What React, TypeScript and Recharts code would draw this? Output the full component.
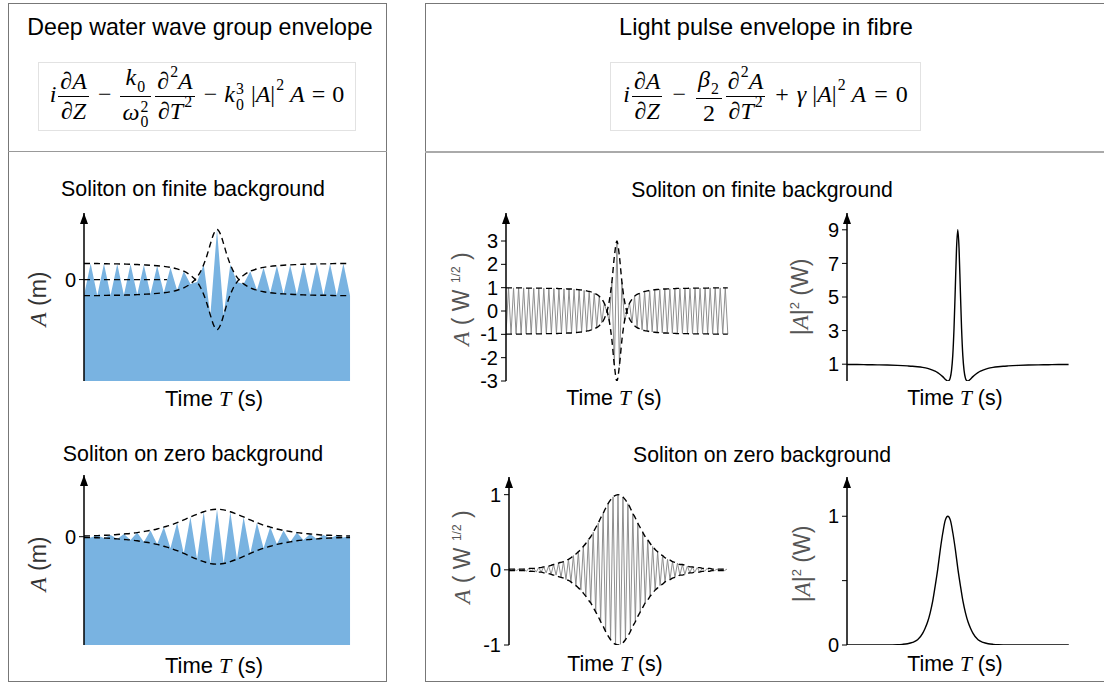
import React from 'react';
import { ComposedChart, Area, Line, XAxis, YAxis, ReferenceLine } from 'recharts';

const SANS = '"Liberation Sans", Arial, Helvetica, sans-serif';
const SERIF = '"Liberation Serif", "Times New Roman", serif';
const WAVE_BLUE = '#79b3e1';

// ---- deep water: carrier extrema at integer T ----
const waterT = [-20, -19, -18, -17, -16, -15, -14, -13, -12, -11, -10, -9, -8, -7, -6, -5, -4, -3, -2, -1, 0, 1, 2, 3, 4, 5, 6, 7, 8, 9, 10, 11, 12, 13, 14, 15, 16, 17, 18, 19, 20];

const waterFiniteWave = [-0.96, 0.96, -0.96, 0.95, -0.94, 0.94, -0.93, 0.92, -0.9, 0.88, -0.86, 0.83, -0.79, 0.73, -0.64, 0.5, -0.26, -0.15, 0.9, -2.13, 3, -2.13, 0.9, -0.15, -0.26, 0.5, -0.64, 0.73, -0.79, 0.83, -0.86, 0.88, -0.9, 0.92, -0.93, 0.94, -0.94, 0.95, -0.96, 0.96, -0.96];

const waterEnvT = [-20, -19, -18, -17, -16, -15, -14, -13, -12, -11, -10, -9, -8, -7, -6, -5, -4, -3.5, -3, -2.5, -2, -1.5, -1, -0.5, 0, 0.5, 1, 1.5, 2, 2.5, 3, 3.5, 4, 5, 6, 7, 8, 9, 10, 11, 12, 13, 14, 15, 16, 17, 18, 19, 20];
const waterFiniteEnv = [0.96, 0.96, 0.96, 0.95, 0.94, 0.94, 0.93, 0.92, 0.9, 0.88, 0.86, 0.83, 0.79, 0.73, 0.64, 0.5, 0.26, 0.09, -0.15, -0.46, -0.9, -1.46, -2.13, -2.74, -3, -2.74, -2.13, -1.46, -0.9, -0.46, -0.15, 0.09, 0.26, 0.5, 0.64, 0.73, 0.79, 0.83, 0.86, 0.88, 0.9, 0.92, 0.93, 0.94, 0.94, 0.95, 0.96, 0.96, 0.96];

const waterZeroWave = [0.03, -0.03, 0.04, -0.05, 0.06, -0.08, 0.1, -0.12, 0.15, -0.19, 0.23, -0.28, 0.35, -0.42, 0.51, -0.61, 0.72, -0.82, 0.91, -0.98, 1, -0.98, 0.91, -0.82, 0.72, -0.61, 0.51, -0.42, 0.35, -0.28, 0.23, -0.19, 0.15, -0.12, 0.1, -0.08, 0.06, -0.05, 0.04, -0.03, 0.03];
const waterZeroEnv = [0.03, 0.03, 0.04, 0.05, 0.06, 0.08, 0.1, 0.12, 0.15, 0.19, 0.23, 0.28, 0.35, 0.42, 0.51, 0.61, 0.72, 0.82, 0.91, 0.98, 1, 0.98, 0.91, 0.82, 0.72, 0.61, 0.51, 0.42, 0.35, 0.28, 0.23, 0.19, 0.15, 0.12, 0.1, 0.08, 0.06, 0.05, 0.04, 0.03, 0.03];

// ---- optical fibre: carrier extrema at integer T ----
const fibreT = [-44, -43, -42, -41, -40, -39, -38, -37, -36, -35, -34, -33, -32, -31, -30, -29, -28, -27, -26, -25, -24, -23, -22, -21, -20, -19, -18, -17, -16, -15, -14, -13, -12, -11, -10, -9, -8, -7, -6, -5, -4, -3, -2, -1, 0, 1, 2, 3, 4, 5, 6, 7, 8, 9, 10, 11, 12, 13, 14, 15, 16, 17, 18, 19, 20, 21, 22, 23, 24, 25, 26, 27, 28, 29, 30, 31, 32, 33, 34, 35, 36, 37, 38, 39, 40, 41, 42, 43, 44];

const fibreFiniteWave = [
  -0.99, 0.99, -0.99, 0.99, -0.99, 0.99, -0.99, 0.99, -0.98, 0.98, -0.98, 0.98, -0.98, 0.98, -0.98, 0.98, -0.97, 0.97, -0.97, 0.97, -0.97, 0.96, -0.96, 0.95, -0.95, 0.94, -0.94, 0.93, -0.92, 0.91, -0.9, 0.88, -0.86, 0.84, -0.81, 0.76, -0.71, 0.63, -0.51, 0.33, -0.04, -0.44, 1.23, -2.34,
  3,
  -2.34, 1.23, -0.44, -0.04, 0.33, -0.51, 0.63, -0.71, 0.76, -0.81, 0.84, -0.86, 0.88, -0.9, 0.91, -0.92, 0.93, -0.94, 0.94, -0.95, 0.95, -0.96, 0.96, -0.97, 0.97, -0.97, 0.97, -0.97, 0.98, -0.98, 0.98, -0.98, 0.98, -0.98, 0.98, -0.98, 0.99, -0.99, 0.99, -0.99, 0.99, -0.99, 0.99, -0.99,
];
const fibreFiniteEnv = [
  0.99, 0.99, 0.99, 0.99, 0.99, 0.99, 0.99, 0.99, 0.98, 0.98, 0.98, 0.98, 0.98, 0.98, 0.98, 0.98, 0.97, 0.97, 0.97, 0.97, 0.97, 0.96, 0.96, 0.95, 0.95, 0.94, 0.94, 0.93, 0.92, 0.91, 0.9, 0.88, 0.86, 0.84, 0.81, 0.76, 0.71, 0.63, 0.51, 0.33, 0.04, -0.44, -1.23, -2.34,
  -3,
  -2.34, -1.23, -0.44, 0.04, 0.33, 0.51, 0.63, 0.71, 0.76, 0.81, 0.84, 0.86, 0.88, 0.9, 0.91, 0.92, 0.93, 0.94, 0.94, 0.95, 0.95, 0.96, 0.96, 0.97, 0.97, 0.97, 0.97, 0.97, 0.98, 0.98, 0.98, 0.98, 0.98, 0.98, 0.98, 0.98, 0.99, 0.99, 0.99, 0.99, 0.99, 0.99, 0.99, 0.99,
];

const fibreZeroWave = [
  0.01, -0.01, 0.01, -0.01, 0.01, -0.01, 0.01, -0.02, 0.02, -0.02, 0.02, -0.03, 0.03, -0.03, 0.04, -0.04, 0.05, -0.06, 0.07, -0.07, 0.09, -0.1, 0.11, -0.13, 0.14, -0.16, 0.19, -0.21, 0.24, -0.27, 0.31, -0.35, 0.4, -0.44, 0.5, -0.56, 0.62, -0.69, 0.75, -0.82, 0.88, -0.93, 0.97, -0.99,
  1,
  -0.99, 0.97, -0.93, 0.88, -0.82, 0.75, -0.69, 0.62, -0.56, 0.5, -0.44, 0.4, -0.35, 0.31, -0.27, 0.24, -0.21, 0.19, -0.16, 0.14, -0.13, 0.11, -0.1, 0.09, -0.07, 0.07, -0.06, 0.05, -0.04, 0.04, -0.03, 0.03, -0.03, 0.02, -0.02, 0.02, -0.02, 0.01, -0.01, 0.01, -0.01, 0.01, -0.01, 0.01,
];
const fibreZeroEnv = [
  0.01, 0.01, 0.01, 0.01, 0.01, 0.01, 0.01, 0.02, 0.02, 0.02, 0.02, 0.03, 0.03, 0.03, 0.04, 0.04, 0.05, 0.06, 0.07, 0.07, 0.09, 0.1, 0.11, 0.13, 0.14, 0.16, 0.19, 0.21, 0.24, 0.27, 0.31, 0.35, 0.4, 0.44, 0.5, 0.56, 0.62, 0.69, 0.75, 0.82, 0.88, 0.93, 0.97, 0.99,
  1,
  0.99, 0.97, 0.93, 0.88, 0.82, 0.75, 0.69, 0.62, 0.56, 0.5, 0.44, 0.4, 0.35, 0.31, 0.27, 0.24, 0.21, 0.19, 0.16, 0.14, 0.13, 0.11, 0.1, 0.09, 0.07, 0.07, 0.06, 0.05, 0.04, 0.04, 0.03, 0.03, 0.03, 0.02, 0.02, 0.02, 0.02, 0.01, 0.01, 0.01, 0.01, 0.01, 0.01, 0.01,
];

// ---- optical power |A|^2 ----
const finitePowerT = [-44, -40, -36, -32, -28, -24, -20, -18, -16, -14, -12, -10, -9, -8, -7, -6, -5, -4.5, -4, -3.5, -3, -2.5, -2, -1.5, -1, -0.5, 0, 0.5, 1, 1.5, 2, 2.5, 3, 3.5, 4, 4.5, 5, 6, 7, 8, 9, 10, 12, 14, 16, 18, 20, 24, 28, 32, 36, 40, 44];
const finitePower = [0.98, 0.98, 0.97, 0.96, 0.95, 0.93, 0.9, 0.88, 0.85, 0.81, 0.75, 0.65, 0.59, 0.5, 0.39, 0.26, 0.11, 0.04, 0, 0.03, 0.19, 0.62, 1.51, 3.13, 5.48, 7.9, 9, 7.9, 5.48, 3.13, 1.51, 0.62, 0.19, 0.03, 0, 0.04, 0.11, 0.26, 0.39, 0.5, 0.59, 0.65, 0.75, 0.81, 0.85, 0.88, 0.9, 0.93, 0.95, 0.96, 0.97, 0.98, 0.98];

const zeroPowerT = [-40, -36, -32, -28, -24, -20, -18, -16, -14, -12, -10, -9, -8, -7, -6, -5, -4, -3, -2, -1, 0, 1, 2, 3, 4, 5, 6, 7, 8, 9, 10, 12, 14, 16, 18, 20, 24, 28, 32, 36, 40, 44, 48];
const zeroPower = [0, 0, 0, 0, 0, 0.002, 0.005, 0.01, 0.02, 0.04, 0.09, 0.13, 0.18, 0.25, 0.34, 0.46, 0.59, 0.74, 0.87, 0.97, 1, 0.97, 0.87, 0.74, 0.59, 0.46, 0.34, 0.25, 0.18, 0.13, 0.09, 0.04, 0.02, 0.01, 0.005, 0.002, 0, 0, 0, 0, 0, 0, 0];

const finiteAmpTicks = [-3, -2, -1, 0, 1, 2, 3];
const finitePowerTicks = [1, 3, 5, 7, 9];
const zeroAmpTicks = [-1, 0, 1];
const zeroPowerTicks = [0, 0.5, 1];

const series = (ts: number[], vs: number[]) => ts.map((t, i) => ({ t, v: vs[i] }));
const band = (ts: number[], vs: number[]) => ts.map((t, i) => ({ t, up: vs[i], lo: -vs[i] }));

const AXIS = { stroke: '#000', strokeWidth: 1.5 };

type PlotProps = {
  x0: number; x1: number; y0: number; y1: number;
  xDomain: [number, number]; yDomain: [number, number];
  ticks: number[]; tickFormatter?: (v: number) => string;
  tickSize?: number;
  children: React.ReactNode;
};

// x0/x1/y0/y1 are the page coordinates of the plot box (axis corner to arrow tips)
function Plot({ x0, x1, y0, y1, xDomain, yDomain, ticks, tickFormatter, tickSize = 20, children }: PlotProps) {
  const yW = 44;
  const pad = 6;
  const padBottom = 16;
  return (
    <div style={{ position: 'absolute', left: x0 - yW - pad, top: y0 - pad }}>
      <ComposedChart
        width={x1 - x0 + yW + pad * 2}
        height={y1 - y0 + pad + padBottom}
        margin={{ top: pad, right: pad, bottom: padBottom, left: pad }}
      >
        <XAxis
          type="number"
          dataKey="t"
          domain={xDomain}
          allowDataOverflow
          height={0}
          tick={false}
          tickLine={false}
          axisLine={{ ...AXIS, markerEnd: 'url(#axisArrow)' } as any}
        />
        <YAxis
          type="number"
          domain={yDomain}
          allowDataOverflow
          ticks={ticks}
          interval={0}
          width={yW}
          tickSize={5}
          tickMargin={3}
          tickFormatter={tickFormatter}
          tickLine={{ stroke: '#000', strokeWidth: 1 }}
          tick={{ fill: '#000', fontSize: tickSize, fontFamily: SANS }}
          axisLine={{ ...AXIS, markerStart: 'url(#axisArrow)' } as any}
        />
        {children}
      </ComposedChart>
    </div>
  );
}

const dashed = { stroke: '#000', strokeWidth: 1.4, strokeDasharray: '6 4', dot: false, isAnimationActive: false } as const;

function Text({ x, y, size, children, color = '#000', rotate = false }: { x: number; y: number; size: number; children: React.ReactNode; color?: string; rotate?: boolean }) {
  return (
    <div
      style={{
        position: 'absolute', left: x, top: y, fontFamily: SANS, fontSize: size, color, lineHeight: 1,
        whiteSpace: 'nowrap', transform: `translate(-50%, -50%)${rotate ? ' rotate(-90deg)' : ''}`,
      }}
    >
      {children}
    </div>
  );
}

const M = ({ children }: { children: React.ReactNode }) => (
  <span style={{ fontFamily: SERIF, fontStyle: 'italic' }}>{children}</span>
);

function Frac({ n, d }: { n: React.ReactNode; d: React.ReactNode }) {
  return (
    <span style={{ display: 'inline-flex', flexDirection: 'column', alignItems: 'stretch', verticalAlign: 'middle', margin: '0 2px', textAlign: 'center' }}>
      <span style={{ padding: '0 2px 2px', lineHeight: 1.05 }}>{n}</span>
      <span style={{ borderTop: '1px solid #000', padding: '2px 2px 0', lineHeight: 1.05 }}>{d}</span>
    </span>
  );
}

// stacked superscript / subscript pair, as in k_0^3
function SubSup({ sub, sup }: { sub?: React.ReactNode; sup?: React.ReactNode }) {
  return (
    <span style={{ display: 'inline-flex', flexDirection: 'column', verticalAlign: 'middle', fontSize: '0.66em', lineHeight: 0.95, fontStyle: 'normal', margin: '0 1px' }}>
      <span style={{ visibility: sup ? 'visible' : 'hidden' }}>{sup ?? '0'}</span>
      <span style={{ visibility: sub ? 'visible' : 'hidden' }}>{sub ?? '0'}</span>
    </span>
  );
}

const Sq = () => (
  <span style={{ fontSize: '0.66em', fontStyle: 'normal', lineHeight: 0, verticalAlign: '0.75em', marginLeft: 1 }}>2</span>
);
const U = ({ children }: { children: React.ReactNode }) => <span style={{ fontStyle: 'normal' }}>{children}</span>;
const Op = ({ children, gap }: { children: React.ReactNode; gap: number }) => (
  <span style={{ fontStyle: 'normal', margin: `0 ${gap}px` }}>{children}</span>
);

function Equation({ left, width, size, children }: { left: number; width: number; size: number; children: React.ReactNode }) {
  return (
    <div
      style={{
        position: 'absolute', left, top: 62, width, height: 69, boxSizing: 'border-box', border: '1px solid #e2e2e2',
        display: 'flex', alignItems: 'center', justifyContent: 'center', fontFamily: SERIF, fontStyle: 'italic', fontSize: size, whiteSpace: 'nowrap',
      }}
    >
      <span style={{ lineHeight: 1 }}>{children}</span>
    </div>
  );
}

function TimeLabel({ x, y, size = 22 }: { x: number; y: number; size?: number }) {
  return (
    <Text x={x} y={y} size={size}>
      Time <M>T</M> (s)
    </Text>
  );
}

export default function App() {
  const waterFinite = series(waterT, waterFiniteWave);
  const waterFiniteBand = band(waterEnvT, waterFiniteEnv);
  const waterZero = series(waterT, waterZeroWave);
  const waterZeroBand = band(waterT, waterZeroEnv);
  const fibreFinite = series(fibreT, fibreFiniteWave);
  const fibreFiniteBand = band(fibreT, fibreFiniteEnv);
  const fibreZero = series(fibreT, fibreZeroWave);
  const fibreZeroBand = band(fibreT, fibreZeroEnv);
  const finitePow = series(finitePowerT, finitePower);
  const zeroPow = series(zeroPowerT, zeroPower);

  return (
    <div style={{ position: 'absolute', left: 0, top: 0, width: 1104, height: 684, overflow: 'hidden', background: '#fff' }}>
      <svg width={0} height={0} style={{ position: 'absolute' }}>
        <defs>
          <marker id="axisArrow" viewBox="0 0 11 8" refX={11} refY={4} markerWidth={11} markerHeight={8} markerUnits="userSpaceOnUse" orient="auto-start-reverse">
            <path d="M0,0 L11,4 L0,8 z" fill="#000" />
          </marker>
        </defs>
      </svg>

      {/* panel frames */}
      <div style={{ position: 'absolute', left: 8, top: 3, width: 379, height: 679, boxSizing: 'border-box', border: '1px solid #777' }} />
      <div style={{ position: 'absolute', left: 8, top: 151, width: 379, height: 1, background: '#999' }} />
      <div style={{ position: 'absolute', left: 425, top: 3, width: 700, height: 679, boxSizing: 'border-box', border: '1px solid #777' }} />
      <div style={{ position: 'absolute', left: 425, top: 151, width: 700, height: 2, background: '#aaa' }} />

      <Text x={200} y={28} size={23.2}>Deep water wave group envelope</Text>
      <Text x={766} y={28} size={23.6}>Light pulse envelope in fibre</Text>

      <Equation left={38} width={318} size={24}>
        <span>i</span>
        <Frac n={<><U>∂</U>A</>} d={<><U>∂</U>Z</>} />
        <Op gap={7}>−</Op>
        <Frac n={<>k<SubSup sub="0" /></>} d={<>ω<SubSup sub="0" sup="2" /></>} />
        <Frac n={<><U>∂</U><Sq />A</>} d={<><U>∂</U>T<Sq /></>} />
        <Op gap={7}>−</Op>
        <span>k</span><SubSup sub="0" sup="3" />
        <U>&nbsp;|</U>A<U>|</U><Sq />
        <span>&nbsp;A</span>
        <Op gap={7}>=</Op>
        <U>0</U>
      </Equation>

      <Equation left={610} width={311} size={24}>
        <span>i</span>
        <Frac n={<><U>∂</U>A</>} d={<><U>∂</U>Z</>} />
        <Op gap={8}>−</Op>
        <Frac n={<>β<SubSup sub="2" /></>} d={<U>2</U>} />
        <Frac n={<><U>∂</U><Sq />A</>} d={<><U>∂</U>T<Sq /></>} />
        <Op gap={8}>+</Op>
        <span>γ</span>
        <U>&nbsp;|</U>A<U>|</U><Sq />
        <span>&nbsp;A</span>
        <Op gap={8}>=</Op>
        <U>0</U>
      </Equation>

      {/* deep water, finite background */}
      <Text x={193} y={190} size={21.4}>Soliton on finite background</Text>
      <Plot x0={84} x1={368} y0={213} y1={381} xDomain={[-20, 22.7]} yDomain={[-6.08, 3.99]} ticks={[0]}>
        <Area data={waterFinite} dataKey="v" type="linear" baseValue={-6.08} fill={WAVE_BLUE} fillOpacity={1} stroke="none" isAnimationActive={false} />
        <ReferenceLine segment={[{ x: -20, y: 0 }, { x: -7.5, y: 0 }]} stroke="#000" strokeWidth={1.2} strokeDasharray="6 4" />
        <Line data={waterFiniteBand} dataKey="up" type="monotone" {...dashed} />
        <Line data={waterFiniteBand} dataKey="lo" type="monotone" {...dashed} />
      </Plot>
      <Text x={38} y={299} size={23} color="#333" rotate><M>A</M> (m)</Text>
      <TimeLabel x={214} y={399} />

      {/* deep water, zero background */}
      <Text x={193} y={455} size={21.4}>Soliton on zero background</Text>
      <Plot x0={84} x1={368} y0={475} y1={645} xDomain={[-20, 22.7]} yDomain={[-3.95, 2.25]} ticks={[0]}>
        <Area data={waterZero} dataKey="v" type="linear" baseValue={-3.95} fill={WAVE_BLUE} fillOpacity={1} stroke="none" isAnimationActive={false} />
        <Line data={waterZeroBand} dataKey="up" type="monotone" {...dashed} />
        <Line data={waterZeroBand} dataKey="lo" type="monotone" {...dashed} />
      </Plot>
      <Text x={38} y={564} size={23} color="#333" rotate><M>A</M> (m)</Text>
      <TimeLabel x={214} y={666} />

      {/* fibre, finite background */}
      <Text x={762} y={190} size={21.2}>Soliton on finite background</Text>
      <Plot x0={506} x1={752} y0={213} y1={381} xDomain={[-44, 53.6]} yDomain={[-3, 4.2]} ticks={finiteAmpTicks}>
        <Line data={fibreFinite} dataKey="v" type="linear" stroke="#8f8f8f" strokeWidth={1} dot={false} isAnimationActive={false} />
        <Line data={fibreFiniteBand} dataKey="up" type="monotone" {...dashed} />
        <Line data={fibreFiniteBand} dataKey="lo" type="monotone" {...dashed} />
      </Plot>
      <Text x={461} y={299} size={23} color="#555" rotate>
        <M>A</M> ( W <sup style={{ fontSize: 12 }}>1/2</sup> )
      </Text>
      <TimeLabel x={614} y={399} size={21.4} />

      <Plot x0={847} x1={1092} y0={213} y1={381} xDomain={[-44, 53.3]} yDomain={[0, 10]} ticks={finitePowerTicks}>
        <Line data={finitePow} dataKey="v" type="monotone" stroke="#000" strokeWidth={1.4} dot={false} isAnimationActive={false} />
      </Plot>
      <Text x={800} y={297} size={23} color="#555" rotate>
        |<M>A</M>|<sup style={{ fontSize: 13 }}>2</sup> (W)
      </Text>
      <TimeLabel x={955} y={399} size={21.4} />

      {/* fibre, zero background */}
      <Text x={762} y={455} size={21.2}>Soliton on zero background</Text>
      <Plot x0={509} x1={753} y0={477} y1={645} xDomain={[-44, 54.5]} yDomain={[-1, 1.235]} ticks={zeroAmpTicks}>
        <Line data={fibreZero} dataKey="v" type="linear" stroke="#8f8f8f" strokeWidth={1} dot={false} isAnimationActive={false} />
        <Line data={fibreZeroBand} dataKey="up" type="monotone" {...dashed} />
        <Line data={fibreZeroBand} dataKey="lo" type="monotone" {...dashed} />
      </Plot>
      <Text x={462} y={557} size={23} color="#555" rotate>
        <M>A</M> ( W <sup style={{ fontSize: 12 }}>1/2</sup> )
      </Text>
      <TimeLabel x={615} y={665} size={21.4} />

      <Plot x0={847} x1={1092} y0={477} y1={645} xDomain={[-40, 57.2]} yDomain={[0, 1.305]} ticks={zeroPowerTicks} tickFormatter={(v) => (v === 0.5 ? '' : String(v))}>
        <Line data={zeroPow} dataKey="v" type="monotone" stroke="#000" strokeWidth={1.4} dot={false} isAnimationActive={false} />
      </Plot>
      <Text x={802} y={564} size={23} color="#555" rotate>
        |<M>A</M>|<sup style={{ fontSize: 13 }}>2</sup> (W)
      </Text>
      <TimeLabel x={955} y={665} size={21.4} />
    </div>
  );
}
